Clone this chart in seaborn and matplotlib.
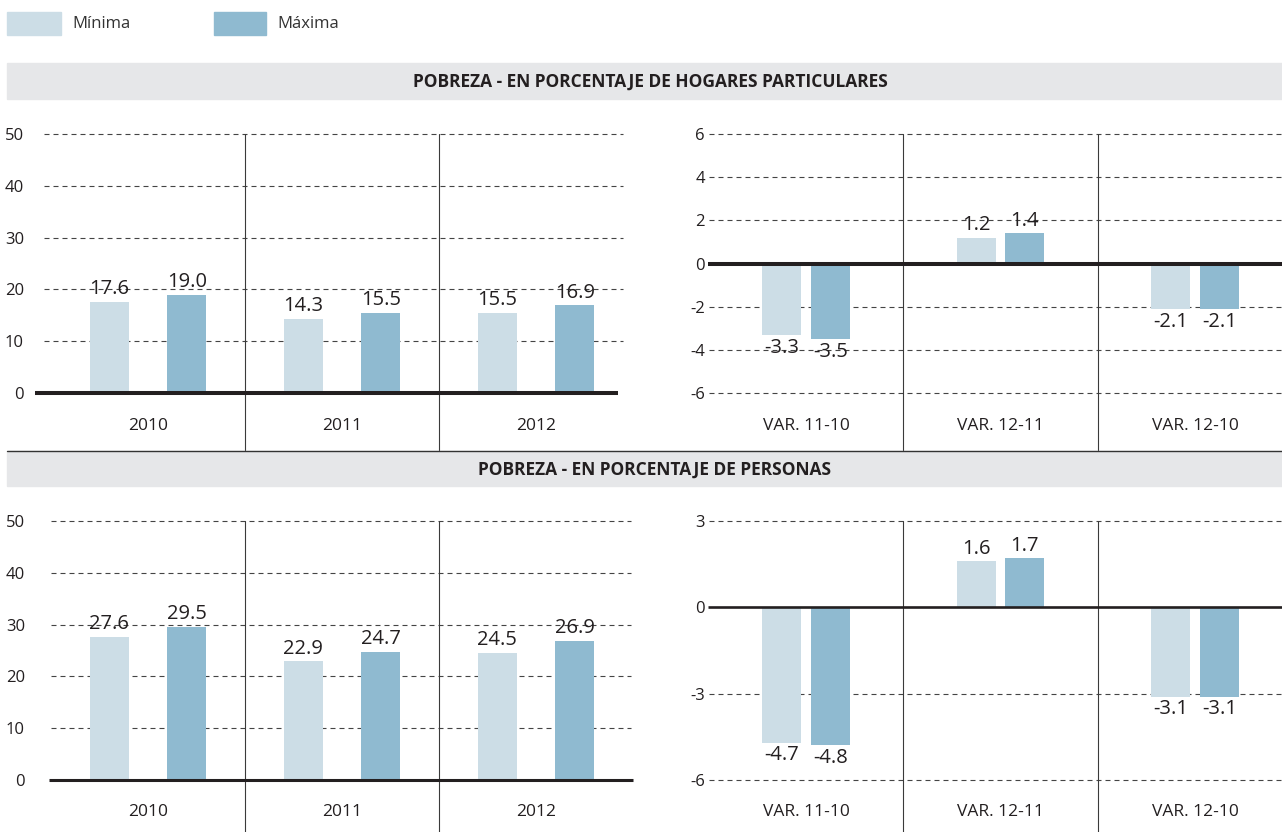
import matplotlib
matplotlib.use("Agg")
import matplotlib.pyplot as plt
from matplotlib.patches import Rectangle
from matplotlib.lines import Line2D
import seaborn as sns
import pandas as pd

# ---------------- data ----------------
years = ["2010", "2011", "2012"]
var_labels = ["VAR. 11-10", "VAR. 12-11", "VAR. 12-10"]
series_names = ["Mínima", "Máxima"]

hogares_min = [17.6, 14.3, 15.5]
hogares_max = [19.0, 15.5, 16.9]
hogares_var_min = [-3.3, 1.2, -2.1]
hogares_var_max = [-3.5, 1.4, -2.1]

personas_min = [27.6, 22.9, 24.5]
personas_max = [29.5, 24.7, 26.9]
personas_var_min = [-4.7, 1.6, -3.1]
personas_var_max = [-4.8, 1.7, -3.1]

ticks_level = [0, 10, 20, 30, 40, 50]
ticks_hog_var = [-6, -4, -2, 0, 2, 4, 6]
ticks_per_var = [-6, -3, 0, 3]

title_hogares = "POBREZA - EN PORCENTAJE DE HOGARES PARTICULARES"
title_personas = "POBREZA - EN PORCENTAJE DE PERSONAS"

# ---------------- style ----------------
sns.set_theme(style="white")
plt.rcParams["font.family"] = ["Open Sans", "DejaVu Sans"]
plt.rcParams["axes.unicode_minus"] = False

C_MIN = "#CCDDE6"
C_MAX = "#8FBAD0"
TXT = "#231F20"
GRID = "#444444"
BAND = "#E6E7E9"

W, H = 1282, 832
fig = plt.figure(figsize=(W / 100, H / 100), dpi=100)


def add_ax(l, r, t, b):
    return fig.add_axes([l / W, 1 - b / H, (r - l) / W, (b - t) / H])


def make_df(cats, vmin, vmax):
    return pd.DataFrame({
        "cat": cats * 2,
        "val": vmin + vmax,
        "serie": [series_names[0]] * len(cats) + [series_names[1]] * len(cats),
    })


def panel(ax, cats, vmin, vmax, yticks, ylim, xlim, width, gap,
          grid_x, zero_x, zero_lw, sep_bottom, ypad, xpad):
    df = make_df(cats, vmin, vmax)
    sns.barplot(data=df, x="cat", y="val", hue="serie", palette=[C_MIN, C_MAX],
                width=width, gap=gap, saturation=1, linewidth=0,
                legend=False, ax=ax, zorder=2)
    for c in ax.containers:
        ax.bar_label(c, fmt="%.1f", padding=2, fontsize=14.5, color=TXT)
    for v in yticks:
        if v == 0:
            continue
        ax.plot(grid_x, [v, v], color=GRID, lw=0.8, ls=(0, (4.5, 3.6)),
                zorder=0.5, clip_on=False)
    ax.plot(zero_x, [0, 0], color="#231F20", lw=zero_lw, zorder=4,
            clip_on=False, solid_capstyle="butt")
    for xs in [0.5, 1.5]:
        ax.plot([xs, xs], [sep_bottom, ylim[1]], color="#3a3a3a", lw=0.8,
                zorder=3, clip_on=False)
    ax.set_xlim(*xlim)
    ax.set_ylim(*ylim)
    ax.set_yticks(yticks)
    ax.set_yticklabels([str(v) for v in yticks])
    ax.set_xticks(range(len(cats)))
    ax.set_xticklabels(cats)
    ax.tick_params(axis="y", length=0, pad=ypad, labelsize=12, labelcolor=TXT)
    ax.tick_params(axis="x", length=0, pad=xpad, labelsize=12.5, labelcolor=TXT)
    ax.set_xlabel("")
    ax.set_ylabel("")
    for s in ax.spines.values():
        s.set_visible(False)
    ax.patch.set_alpha(0)


# top-left
ax1 = add_ax(44, 640, 134, 393)
panel(ax1, years, hogares_min, hogares_max, ticks_level, (0, 50), (-0.536, 2.536),
      0.8, 0.5, [-0.536, 2.448], [-0.582, 2.423], 2.9, -11.0, 14.4, 18)
# top-right
ax2 = add_ax(709, 1282, 134, 393)
panel(ax2, var_labels, hogares_var_min, hogares_var_max, ticks_hog_var, (-6, 6),
      (-0.499, 2.447), 0.5, 0.2, [-0.499, 2.447], [-0.505, 2.447], 2.9, -8.64, 2.9, 18)
# bottom-left
ax3 = add_ax(51, 640, 521, 780)
panel(ax3, years, personas_min, personas_max, ticks_level, (0, 50), (-0.5, 2.536),
      0.8, 0.5, [-0.5, 2.49], [-0.51, 2.5], 2.2, -11.0, 18.7, 17)
# bottom-right
ax4 = add_ax(709, 1282, 521, 780)
panel(ax4, var_labels, personas_var_min, personas_var_max, ticks_per_var, (-6, 3),
      (-0.499, 2.447), 0.5, 0.2, [-0.499, 2.447], [-0.505, 2.447], 1.9, -8.0, 2.9, 17)

# header bands
fig.add_artist(Rectangle((7 / W, 1 - 99 / H), (W - 7) / W, 36 / H,
                         transform=fig.transFigure, color=BAND, zorder=0))
fig.text(650 / W, 1 - 82 / H, title_hogares, ha="center", va="center",
         fontsize=12.5, fontweight="bold", color=TXT)
fig.add_artist(Rectangle((7 / W, 1 - 486 / H), (W - 7) / W, 35 / H,
                         transform=fig.transFigure, color=BAND, zorder=0))
fig.add_artist(Line2D([7 / W, 1], [1 - 450.5 / H, 1 - 450.5 / H],
                      transform=fig.transFigure, color="#333333", lw=1))
fig.text(655 / W, 1 - 470 / H, title_personas, ha="center", va="center",
         fontsize=12.5, fontweight="bold", color=TXT)

# legend
for (x0, x1, label, col) in [(7, 61, series_names[0], C_MIN), (214, 266, series_names[1], C_MAX)]:
    fig.add_artist(Rectangle((x0 / W, 1 - 35 / H), (x1 - x0) / W, 23 / H,
                             transform=fig.transFigure, color=col))
    fig.text((x1 + 11) / W, 1 - 24 / H, label, ha="left", va="center",
             fontsize=12, color="#333333")

fig.savefig("out.png", dpi=100)
